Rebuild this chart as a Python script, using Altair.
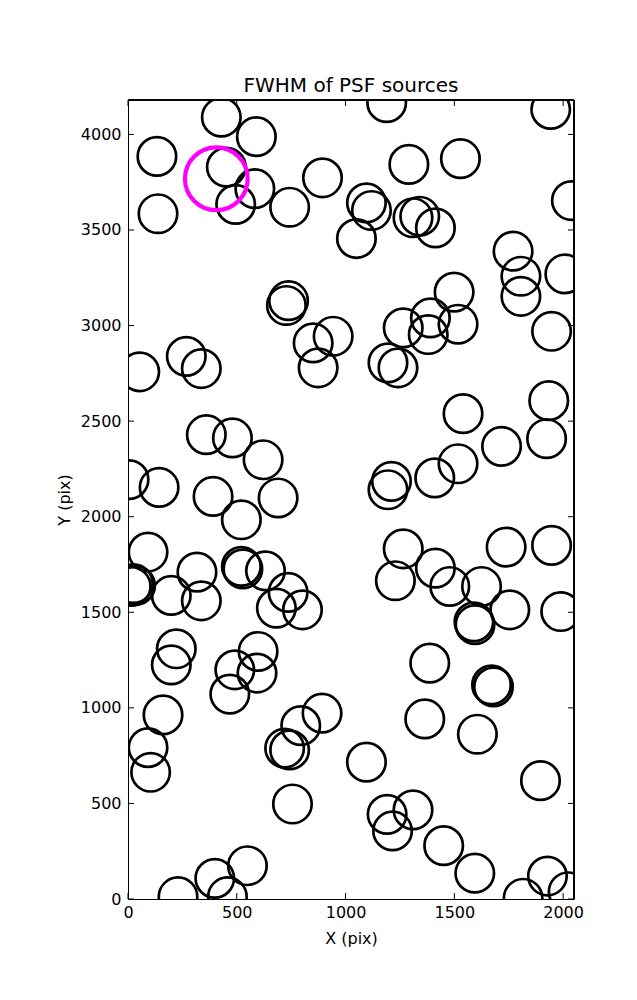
import altair as alt
import pandas as pd

# circle centres (X, Y) in pixels of the detector image
xs = [429, 590, 133, 452, 583, 495, 743, 894, 138, 1050, 738, 728,
      1189, 1943, 1291, 1528, 1096, 1119, 1310, 1341, 1413, 1770, 1806, 1806,
      2008, 2038, 1499, 1390, 1380, 1517, 1265, 1947, 1195, 1241, 943, 851,
      874, 1540, 1934, 1924, 1717, 1517, 1410, 1211, 1195, 54, 268, 337,
      360, 480, 621, 5, 143, 391, 690, 521, 92, 25, 35, 15,
      199, 317, 337, 521, 528, 632, 736, 682, 802, 222, 199, 598,
      491, 593, 468, 161, 892, 1265, 1229, 1413, 1479, 1625, 1738, 1947,
      1755, 1989, 1590, 1595, 1387, 1671, 1680, 1364, 1606, 1096, 1896, 1191,
      1310, 1216, 1451, 1594, 1928, 1816, 2023, 92, 104, 720, 743, 794,
      756, 549, 399, 230, 457]
ys = [4090, 3988, 3885, 3829, 3716, 3634, 3619, 3773, 3585, 3455, 3130, 3105,
      4166, 4131, 3843, 3873, 3642, 3602, 3564, 3572, 3511, 3389, 3258, 3153,
      3270, 3654, 3175, 3040, 2953, 3007, 2988, 2970, 2805, 2779, 2944, 2909,
      2779, 2539, 2607, 2408, 2368, 2277, 2203, 2185, 2141, 2758, 2839, 2775,
      2429, 2412, 2298, 2194, 2153, 2106, 2098, 1984, 1815, 1650, 1640, 1635,
      1588, 1710, 1560, 1740, 1727, 1717, 1604, 1522, 1513, 1309, 1225, 1295,
      1199, 1182, 1072, 963, 972, 1832, 1665, 1731, 1635, 1635, 1841, 1850,
      1513, 1504, 1450, 1435, 1234, 1120, 1110, 942, 862, 716, 619, 443,
      466, 356, 279, 135, 120, 4, 38, 792, 663, 789, 780, 907,
      497, 174, 108, 12, 12]

# highlighted source
hx = [406]
hy = [3768]

x_ticks = [0, 500, 1000, 1500, 2000]
y_ticks = [0, 500, 1000, 1500, 2000, 2500, 3000, 3500, 4000]

W, H = 446, 799
FONT = "DejaVu Sans"

df = pd.DataFrame({"x": xs, "y": ys})
dh = pd.DataFrame({"x": hx, "y": hy})
dxt = pd.DataFrame({"t": x_ticks})
dyt = pd.DataFrame({"t": y_ticks})

xscale = alt.Scale(domain=[0, 2050], nice=False, zero=False)
yscale = alt.Scale(domain=[0, 4180], nice=False, zero=False)

xaxis = alt.Axis(title="X (pix)", values=x_ticks, format="d", ticks=False, grid=False,
                 labelFontSize=16, titleFontSize=16, labelFont=FONT, titleFont=FONT,
                 titleFontWeight="normal", labelPadding=5, titlePadding=10,
                 domainColor="black", labelColor="black", titleColor="black",
                 labelFlush=False)
yaxis = alt.Axis(title="Y (pix)", values=y_ticks, format="d", ticks=False, grid=False,
                 labelFontSize=16, titleFontSize=16, labelFont=FONT, titleFont=FONT,
                 titleFontWeight="normal", labelPadding=7, titlePadding=8,
                 domainColor="black", labelColor="black", titleColor="black",
                 labelFlush=False)

circles = alt.Chart(df).mark_point(
    shape="circle", filled=False, stroke="black", strokeWidth=2.7,
    size=1480, opacity=1, clip=True
).encode(
    x=alt.X("x:Q", scale=xscale, axis=xaxis),
    y=alt.Y("y:Q", scale=yscale, axis=yaxis),
)

hl = alt.Chart(dh).mark_point(
    shape="circle", filled=False, stroke="#ff00ff", strokeWidth=4.2,
    size=3930, opacity=1, clip=True
).encode(
    x=alt.X("x:Q", scale=xscale),
    y=alt.Y("y:Q", scale=yscale),
)

tl = 6
xt_bottom = alt.Chart(dxt).mark_rule(color="black", strokeWidth=1).encode(
    x=alt.X("t:Q", scale=xscale), y=alt.value(H), y2=alt.value(H - tl))
xt_top = alt.Chart(dxt).mark_rule(color="black", strokeWidth=1).encode(
    x=alt.X("t:Q", scale=xscale), y=alt.value(0), y2=alt.value(tl))
yt_left = alt.Chart(dyt).mark_rule(color="black", strokeWidth=1).encode(
    y=alt.Y("t:Q", scale=yscale), x=alt.value(0), x2=alt.value(tl))
yt_right = alt.Chart(dyt).mark_rule(color="black", strokeWidth=1).encode(
    y=alt.Y("t:Q", scale=yscale), x=alt.value(W), x2=alt.value(W - tl))

# frame edges (top and right) drawn on top
frame_right = alt.Chart(dxt).mark_rule(color="black", strokeWidth=1.2).encode(
    x=alt.value(W), y=alt.value(0), y2=alt.value(H))
frame_top = alt.Chart(dxt).mark_rule(color="black", strokeWidth=1.2).encode(
    x=alt.value(0), x2=alt.value(W), y=alt.value(0))

chart = alt.layer(circles, hl, xt_bottom, xt_top, yt_left, yt_right,
                  frame_right, frame_top).properties(
    width=W, height=H,
    title=alt.TitleParams("FWHM of PSF sources", fontSize=20, font=FONT,
                          fontWeight="normal", anchor="middle", offset=3,
                          color="black"),
    padding={"left": 120, "top": 92, "right": 40, "bottom": 80},
    autosize=alt.AutoSizeParams(type="none"),
).configure_view(
    stroke="black", strokeWidth=1
).configure(background="white")

chart.save("out.html", embed_options={"renderer": "svg", "actions": False})
